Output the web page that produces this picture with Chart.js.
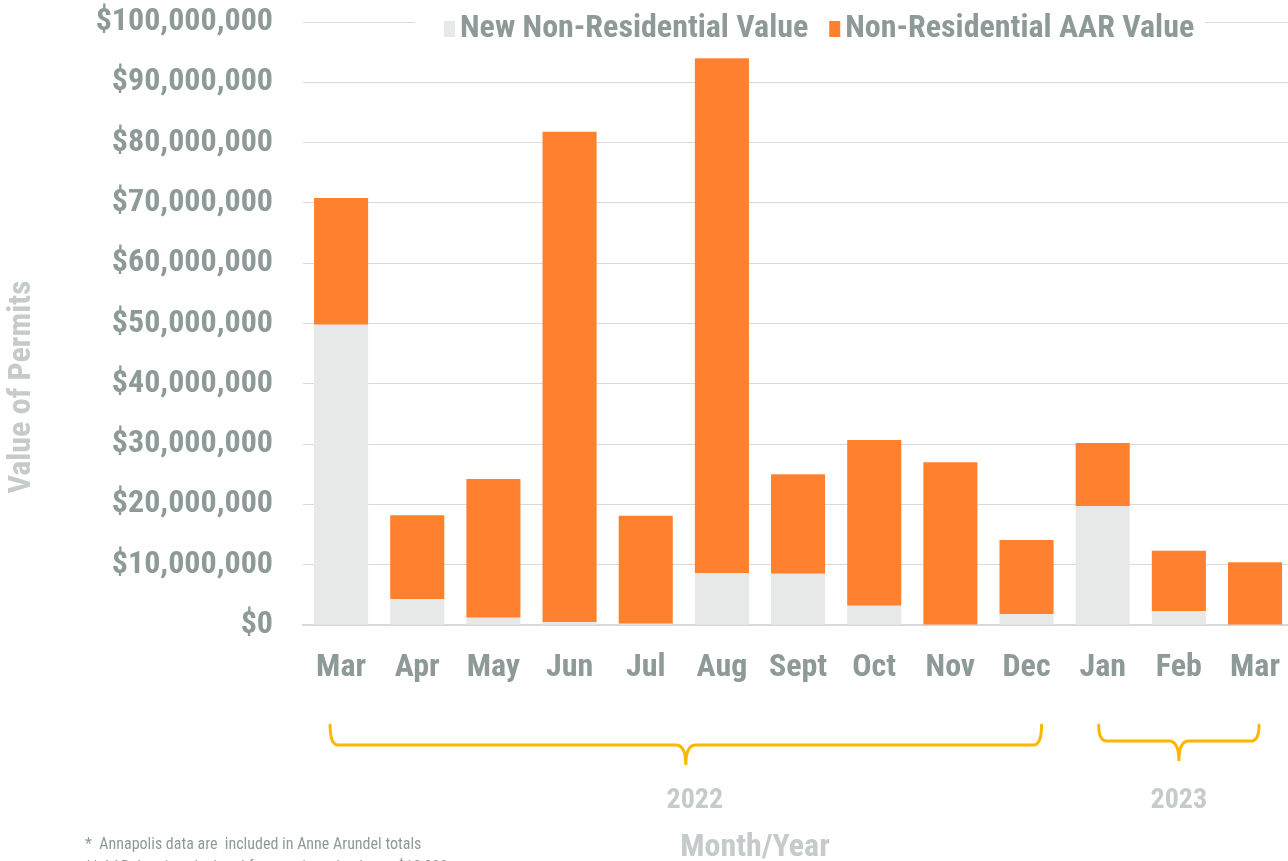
<!DOCTYPE html>
<html>
<head>
<meta charset="utf-8">
<script src="https://cdn.jsdelivr.net/npm/chart.js@4"></script>
<style>
  html, body { margin: 0; padding: 0; background: #fff; overflow: hidden; }
  #wrap { width: 1296px; height: 861px; position: relative; }
</style>
</head>
<body>
<div id="wrap"><canvas id="myChart"></canvas></div>
<script>
// month labels, years and values (millions of dollars)
const months = ['Mar', 'Apr', 'May', 'Jun', 'Jul', 'Aug', 'Sept', 'Oct', 'Nov', 'Dec', 'Jan', 'Feb', 'Mar'];
const newValues = [49.8, 4.3, 1.2, 0.5, 0.2, 8.6, 8.5, 3.2, 0.1, 1.8, 19.7, 2.3, 0.1];
const totalValues = [70.8, 18.2, 24.2, 81.8, 18.1, 94.0, 25.0, 30.7, 27.0, 14.1, 30.2, 12.3, 10.4];
const aarValues = totalValues.map((t, i) => +(t - newValues[i]).toFixed(1));
const years = [
    { label: '2022', from: 0, to: 9 },
    { label: '2023', from: 10, to: 12 }
];

const FONT = "'Roboto Condensed', 'Liberation Sans Narrow', Roboto, sans-serif";
const TEXT = '#8e9a98';
const LIGHT = '#c4cbca';
const ORANGE = '#ff8130';
const GREY = '#e7e9e8';
const GOLD = '#ffb600';

const extras = {
    id: 'extras',
    afterDraw(chart) {
        const ctx = chart.ctx;
        const x = chart.scales.x;
        ctx.save();

        // legend sitting on the top gridline
        ctx.font = 'bold 32px ' + FONT;
        ctx.textBaseline = 'middle';
        const items = chart.data.datasets.map(d => ({ label: d.label, color: d.backgroundColor }));
        const widths = items.map(it => ctx.measureText(it.label).width);
        let lx = 444;
        const total = widths.reduce((a, b) => a + b, 0) + items.length * 16 + 21;
        ctx.fillStyle = '#fff';
        ctx.fillRect(lx - 29, 6, total + 40, 38);
        items.forEach((it, i) => {
            ctx.fillStyle = it.color;
            ctx.fillRect(lx, 21, 11, 16);
            ctx.fillStyle = TEXT;
            ctx.textAlign = 'left';
            ctx.fillText(it.label, lx + 16, 29);
            lx += widths[i] + 16 + 21;
        });

        // year braces
        ctx.strokeStyle = GOLD;
        ctx.lineWidth = 3;
        ctx.lineCap = 'round';
        years.forEach((y, k) => {
            const x0 = x.getPixelForValue(y.from) - (k === 0 ? 11 : 4);
            const x1 = x.getPixelForValue(y.to) + (k === 0 ? 15 : 4);
            const mid = (x0 + x1) / 2;
            const top = 725, base = k === 0 ? 745 : 741, tip = base + 20;
            ctx.beginPath();
            ctx.moveTo(x0, top);
            ctx.quadraticCurveTo(x0, base, x0 + 8, base);
            ctx.lineTo(mid - 10, base);
            ctx.quadraticCurveTo(mid, base, mid, tip);
            ctx.quadraticCurveTo(mid, base, mid + 10, base);
            ctx.lineTo(x1 - 8, base);
            ctx.quadraticCurveTo(x1, base, x1, top);
            ctx.stroke();

            ctx.fillStyle = LIGHT;
            ctx.font = 'bold 28px ' + FONT;
            ctx.textAlign = 'center';
            ctx.fillText(y.label, k === 0 ? mid + 9 : mid, 801);
        });

        // axis titles
        ctx.fillStyle = LIGHT;
        ctx.font = 'bold 32px ' + FONT;
        ctx.textAlign = 'center';
        ctx.fillText('Month/Year', 755, 848);
        ctx.save();
        ctx.translate(22, 387);
        ctx.rotate(-Math.PI / 2);
        ctx.fillText('Value of Permits', 0, 0);
        ctx.restore();

        // footnotes
        ctx.fillStyle = TEXT;
        ctx.font = '16px ' + FONT;
        ctx.textAlign = 'left';
        ctx.fillText('*  Annapolis data are  included in Anne Arundel totals', 85, 845);
        ctx.fillText('** AAR data is calculated for permits valued over $10,000', 85, 868);
        ctx.restore();
    }
};

const ctx = document.getElementById('myChart').getContext('2d');
const myChart = new Chart(ctx, {
    type: 'bar',
    data: {
        labels: months,
        datasets: [
            {
                label: 'New Non-Residential Value',
                data: newValues.map(v => v * 1e6),
                backgroundColor: GREY,
                barPercentage: 0.71,
                categoryPercentage: 1
            },
            {
                label: 'Non-Residential AAR Value',
                data: aarValues.map(v => v * 1e6),
                backgroundColor: ORANGE,
                barPercentage: 0.71,
                categoryPercentage: 1
            }
        ]
    },
    options: {
        responsive: true,
        maintainAspectRatio: false,
        animation: false,
        layout: { padding: { top: 22, right: 0, left: 0, bottom: 0 } },
        plugins: {
            legend: { display: false },
            tooltip: { enabled: false }
        },
        scales: {
            x: {
                stacked: true,
                grid: { display: false },
                border: { color: '#d9d9d9', width: 2 },
                ticks: {
                    color: TEXT,
                    font: { family: FONT, size: 32, weight: 'bold' },
                    padding: 16,
                    maxRotation: 0
                },
                afterFit(scale) { scale.height = 236; }
            },
            y: {
                stacked: true,
                min: 0,
                max: 100000000,
                grid: { color: '#d9d9d9', drawTicks: false },
                border: { display: false },
                ticks: {
                    stepSize: 10000000,
                    color: TEXT,
                    padding: 30,
                    font: { family: FONT, size: 32, weight: 'bold' },
                    callback: v => '$' + v.toLocaleString('en-US')
                },
                afterFit(scale) {
                    scale.width = 303;
                    scale.paddingTop = 0;
                    scale.paddingBottom = 0;
                }
            }
        }
    },
    plugins: [extras]
});
</script>
</body>
</html>
